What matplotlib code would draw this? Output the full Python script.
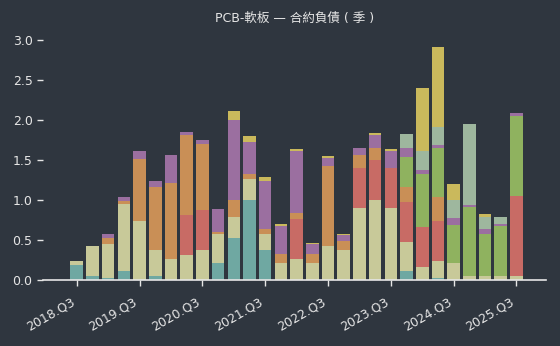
import matplotlib
matplotlib.use("Agg")
import matplotlib.pyplot as plt
import numpy as np

plt.rcParams['font.family'] = ['DejaVu Sans', 'Noto Sans CJK TC']

title = "PCB-軟板 — 合約負債 ( 季 )"
quarters = [f"{y}.Q{q}" for y in range(2018, 2026) for q in range(1, 5)][2:31]

teal = [0.19, 0.05, 0.03, 0.11, 0, 0.05, 0, 0, 0, 0.21, 0.525, 1.0, 0.375, 0, 0, 0, 0, 0, 0, 0,
        0, 0.11, 0, 0.025, 0, 0, 0, 0, 0]
khaki = [0.05, 0.375, 0.42, 0.84, 0.74, 0.325, 0.26, 0.31, 0.375, 0.36, 0.26, 0.26, 0.20, 0.21,
         0.26, 0.21, 0.425, 0.375, 0.90, 1.0, 0.90, 0.36, 0.16, 0.21, 0.21, 0.05, 0.05, 0.05, 0.05]
red = [0, 0, 0, 0, 0, 0, 0, 0.5, 0.5, 0, 0, 0, 0, 0, 0.5, 0, 0, 0, 0.5, 0.5,
       0.5, 0.5, 0.5, 0.5, 0, 0, 0, 0, 1.0]
orange = [0, 0, 0.08, 0.04, 0.77, 0.79, 0.95, 1.0, 0.83, 0.025, 0.22, 0.06, 0.067, 0.11, 0.075,
          0.11, 1.0, 0.11, 0.16, 0.15, 0, 0.19, 0, 0.30, 0, 0, 0, 0, 0]
green = [0] * 21 + [0.375, 0.66, 0.61, 0.475, 0.86, 0.525, 0.625, 1.0]
purple = [0, 0, 0.045, 0.05, 0.10, 0.07, 0.35, 0.045, 0.046, 0.29, 1.0, 0.40, 0.60, 0.36, 0.775,
          0.125, 0.10, 0.075, 0.09, 0.16, 0.21, 0.11, 0.05, 0.04, 0.09, 0.025, 0.06, 0.025, 0.04]
graygreen = [0] * 21 + [0.175, 0.24, 0.225, 0.225, 1.01, 0.15, 0.09, 0]
yellow = [0] * 10 + [0.11, 0.075, 0.05, 0.025, 0.025, 0.017, 0.025, 0.0125, 0, 0.025,
                     0.025, 0, 0.79, 1.0, 0.20, 0, 0.04, 0, 0]

series = [teal, khaki, red, orange, green, purple, graygreen, yellow]
colors = ["#6fa8a2", "#c8c999", "#c86b65", "#c98f56", "#8fb25f", "#9b6fa0", "#9eb79e", "#cab95c"]

bg = "#2f363f"
fg = "#e6e6e6"

fig = plt.figure(figsize=(5.6, 3.46), dpi=100, facecolor=bg)
ax = fig.add_axes([43 / 560, 1 - 280 / 346, (546 - 43) / 560, (280 - 35.3) / 346])
ax.set_facecolor(bg)

x = np.arange(len(quarters))
bottom = np.zeros(len(quarters))
for vals, c in zip(series, colors):
    v = np.array(vals, dtype=float)
    ax.bar(x, v, bottom=bottom, width=0.8, color=c, linewidth=0)
    bottom += v

ax.set_xlim(-2.15, 29.88)
ax.set_ylim(0, 3.058)

ax.set_yticks([0, 0.5, 1.0, 1.5, 2.0, 2.5, 3.0])
ax.set_yticklabels([f"{v:.1f}" for v in [0, 0.5, 1.0, 1.5, 2.0, 2.5, 3.0]])
ax.set_xticks(x[::4])
ax.set_xticklabels(quarters[::4], rotation=30, ha='right')

for s in ['top', 'right', 'left']:
    ax.spines[s].set_visible(False)
ax.spines['bottom'].set_color(fg)
ax.spines['bottom'].set_linewidth(1.2)
ax.tick_params(axis='both', colors=fg, labelcolor=fg, labelsize=9, length=4, width=1)
ax.tick_params(axis='x', pad=7)

ax.set_title(title, color=fg, fontsize=9, pad=10)

fig.savefig("out.png", dpi=100, facecolor=bg)
